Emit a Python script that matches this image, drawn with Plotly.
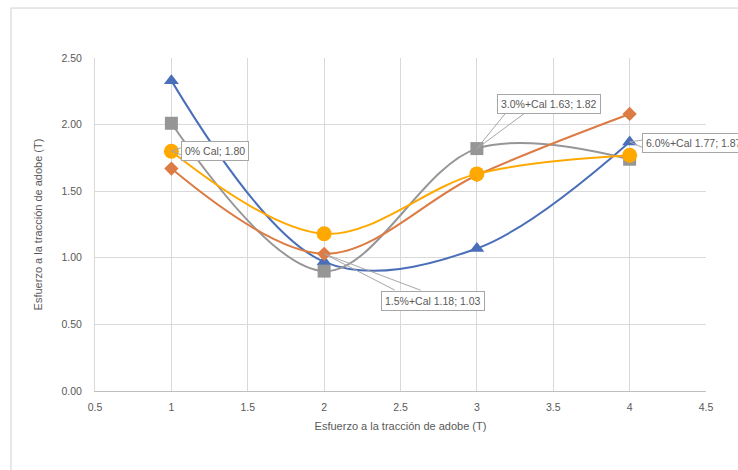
import plotly.graph_objects as go

# Test points (x) and tensile stress values for each mix
x_vals = [1, 2, 3, 4]
serie_triangulo = [2.33, 0.97, 1.07, 1.87]
serie_cuadrado = [2.01, 0.90, 1.82, 1.74]
serie_rombo = [1.67, 1.03, 1.62, 2.08]
serie_circulo = [1.80, 1.18, 1.63, 1.77]

x_ticks = [0.5, 1, 1.5, 2, 2.5, 3, 3.5, 4, 4.5]
y_ticks = [0.0, 0.5, 1.0, 1.5, 2.0, 2.5]

eje_titulo = "Esfuerzo a la tracción de adobe (T)"

FONT = "Liberation Sans"
TXT = "#595959"
CALLOUT = "#A6A6A6"

fig = go.Figure()

series = [
    ("triangulo", serie_triangulo, "#4A6FB8", "triangle-up", 13),
    ("cuadrado", serie_cuadrado, "#969696", "square", 13),
    ("rombo", serie_rombo, "#DC7B43", "diamond", 11),
    ("circulo", serie_circulo, "#FFA800", "circle", 15),
]
for name, ys, color, symbol, size in series:
    fig.add_trace(go.Scatter(
        x=x_vals, y=ys, name=name, mode="lines+markers",
        line=dict(color=color, width=2, shape="spline", smoothing=1.0),
        marker=dict(symbol=symbol, size=size, color=color),
        cliponaxis=False,
    ))

# Callout labels: anchor point, text, box offset (px), wedge tail offsets (px)
labels = [
    (x_vals[0], serie_circulo[0], f"0% Cal; {serie_circulo[0]:.2f}",
     44, 0, [(11, -4), (11, 4)]),
    (x_vals[1], serie_rombo[1], f"1.5%+Cal {serie_circulo[1]:.2f}; {serie_rombo[1]:.2f}",
     109, -47, [(72, 37), (98, 37)]),
    (x_vals[2], serie_cuadrado[2], f"3.0%+Cal {serie_circulo[2]:.2f}; {serie_cuadrado[2]:.2f}",
     72, 45, [(30, -37), (50, -37)]),
    (x_vals[3], serie_triangulo[3], f"6.0%+Cal {serie_circulo[3]:.2f}; {serie_triangulo[3]:.2f}",
     64, -1, [(14, -2), (14, 6)]),
]
for x, y, text, xs, ys, tails in labels:
    for ax, ay in tails:
        fig.add_annotation(
            x=x, y=y, xref="x", yref="y", text="",
            showarrow=True, arrowhead=0, arrowwidth=1, arrowcolor=CALLOUT,
            ax=ax, ay=ay, standoff=0, startstandoff=0,
        )
    fig.add_annotation(
        x=x, y=y, xref="x", yref="y", text=text,
        showarrow=False, xshift=xs, yshift=ys,
        bgcolor="white", bordercolor=CALLOUT, borderwidth=1, borderpad=3,
        font=dict(family=FONT, size=10.5, color=TXT),
    )

# Outer chart frame
fig.add_shape(
    type="path", xref="paper", yref="paper",
    path="M -0.1375 -0.35 L -0.1375 1.15 L 1.2 1.15",
    line=dict(color="#D0D0D0", width=1),
)

fig.update_layout(
    width=738, height=470,
    margin=dict(l=95, r=32, t=58, b=79),
    paper_bgcolor="white", plot_bgcolor="white",
    showlegend=False,
    font=dict(family=FONT, color=TXT),
)
fig.update_xaxes(
    range=[0.5, 4.5], tickvals=x_ticks, ticktext=[f"{v:g}" for v in x_ticks],
    showgrid=True, gridcolor="#D9D9D9", gridwidth=1,
    showline=True, linecolor="#BFBFBF", mirror=False,
    zeroline=False, ticks="", tickfont=dict(size=10.5, color=TXT),
    ticklabelstandoff=6,
    title=dict(text=eje_titulo, font=dict(size=11, color=TXT), standoff=10),
)
fig.update_yaxes(
    range=[0, 2.5], tickvals=y_ticks, ticktext=[f"{v:.2f}" for v in y_ticks],
    showgrid=True, gridcolor="#D9D9D9", gridwidth=1,
    showline=True, linecolor="#D9D9D9",
    zeroline=False, ticks="", tickfont=dict(size=10.5, color=TXT),
    ticklabelstandoff=10,
    title=dict(text=eje_titulo, font=dict(size=11, color=TXT), standoff=16),
)

fig.write_html("out.html")
